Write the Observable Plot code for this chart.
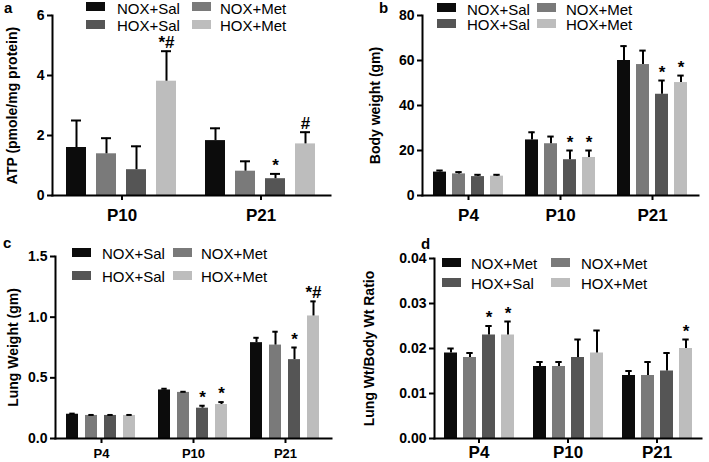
<!DOCTYPE html>
<html>
<head>
<meta charset="utf-8">
<script src="https://cdn.jsdelivr.net/npm/d3@7"></script>
<script src="https://cdn.jsdelivr.net/npm/@observablehq/plot@0.6"></script>
<style>
  html, body { margin: 0; padding: 0; background: #fff; }
  body { width: 709px; height: 462px; overflow: hidden; font-family: "Liberation Sans", Arial, sans-serif; }
  #fig { position: relative; width: 709px; height: 462px; }
  .panel { position: absolute; height: 231px; }
  .panel svg { display: block; }
  .letter { position: absolute; font-weight: bold; font-size: 15px; line-height: 12px; color: #000; }
  .sw { position: absolute; width: 19px; height: 9px; }
  .lt { position: absolute; font-size: 15px; line-height: 1; color: #000; white-space: nowrap; }
</style>
</head>
<body>
<div id="fig"></div>
<script>
// ---------- data ----------
const series = ["NOX+Sal", "NOX+Met", "HOX+Sal", "HOX+Met"];
const colors = ["#0c0c0c", "#7a7a7a", "#555555", "#bdbdbd"];

// panel a: ATP
const aGroups = ["P10", "P21"];
const aMean = [[1.6, 1.39, 0.86, 3.81], [1.83, 0.81, 0.56, 1.72]];
const aErr  = [[0.9, 0.52, 0.78, 1.0], [0.41, 0.33, 0.16, 0.39]];
const aSig  = [["", "", "", "*#"], ["", "", "*", "#"]];
const aTicks = [0, 2, 4, 6];
const aLegend = ["NOX+Sal", "NOX+Met", "HOX+Sal", "HOX+Met"];

// panel b: body weight
const bGroups = ["P4", "P10", "P21"];
const bMean = [[10.4, 9.6, 8.4, 8.6], [24.7, 23, 15.9, 16.9], [60, 58.2, 45, 50.2]];
const bErr  = [[0.7, 0.8, 0.8, 0.6], [3.4, 3.2, 4.1, 3.1], [6.4, 6.2, 6.1, 3.1]];
const bSig  = [["", "", "", ""], ["", "", "*", "*"], ["", "", "*", "*"]];
const bTicks = [0, 20, 40, 60, 80];
const bLegend = ["NOX+Sal", "NOX+Met", "HOX+Sal", "HOX+Met"];

// panel c: lung weight
const cGroups = ["P4", "P10", "P21"];
const cMean = [[0.2, 0.19, 0.19, 0.19], [0.4, 0.38, 0.25, 0.28], [0.79, 0.77, 0.65, 1.01]];
const cErr  = [[0.005, 0.004, 0.004, 0.004], [0.01, 0.005, 0.02, 0.02], [0.04, 0.11, 0.1, 0.12]];
const cSig  = [["", "", "", ""], ["", "", "*", "*"], ["", "", "*", "*#"]];
const cTicks = [0, 0.5, 1.0, 1.5];
const cLegend = ["NOX+Sal", "NOX+Met", "HOX+Sal", "HOX+Met"];

// panel d: lung wt / body wt ratio
const dGroups = ["P4", "P10", "P21"];
const dMean = [[0.019, 0.018, 0.023, 0.023], [0.016, 0.016, 0.018, 0.019], [0.014, 0.014, 0.015, 0.020]];
const dErr  = [[0.001, 0.001, 0.002, 0.003], [0.001, 0.001, 0.004, 0.005], [0.001, 0.003, 0.004, 0.002]];
const dSig  = [["", "", "*", "*"], ["", "", "", ""], ["", "", "", "*"]];
const dTicks = [0, 0.01, 0.02, 0.03, 0.04];
const dLegend = ["NOX+Met", "NOX+Met", "HOX+Sal", "HOX+Met"];

// ---------- drawing ----------
function rowsOf(groups, mean, err, sig) {
  const rows = [];
  groups.forEach((g, gi) => series.forEach((s, si) => rows.push({
    group: g, series: s, mean: mean[gi][si], err: err[gi][si], top: mean[gi][si] + err[gi][si], sig: sig[gi][si]
  })));
  return rows;
}

function panel(cfg) {
  const rows = rowsOf(cfg.groups, cfg.mean, cfg.err, cfg.sig);
  const div = document.createElement("div");
  div.className = "panel";
  div.style.left = cfg.left + "px";
  div.style.top = cfg.top + "px";
  div.style.width = cfg.width + "px";
  const chart = Plot.plot({
    width: cfg.width,
    height: 231,
    marginLeft: cfg.ml, marginRight: cfg.mr, marginTop: cfg.mt, marginBottom: cfg.mb,
    fx: {domain: cfg.groups, padding: 0, paddingOuter: cfg.fxOuter, align: cfg.fxAlign, label: null},
    x: {domain: series, paddingInner: cfg.xInner, paddingOuter: cfg.xOuter, axis: null},
    y: {domain: [0, cfg.ticks[cfg.ticks.length - 1]], axis: null},
    color: {domain: series, range: colors},
    style: {fontFamily: '"Liberation Sans", Arial, sans-serif', fontWeight: "bold", background: "#fff", color: "#000", overflow: "visible"},
    marks: [
      Plot.barY(rows, {fx: "group", x: "series", y: "mean", fill: "series"}),
      Plot.ruleX(rows, {fx: "group", x: "series", y1: "mean", y2: "top", stroke: "#000", strokeWidth: 2}),
      Plot.tickY(rows, {fx: "group", x: "series", y: "top", stroke: "#000", strokeWidth: 2, insetLeft: cfg.cap, insetRight: cfg.cap}),
      Plot.text(rows.filter(d => d.sig), {fx: "group", x: "series", y: "top", text: "sig", dy: -3, lineAnchor: "bottom", fontSize: 17, fill: "#000"}),
      Plot.axisY({ticks: cfg.ticks, tickFormat: cfg.fmt, tickSize: 5, tickPadding: 3, fontSize: 14, strokeWidth: 2,
        label: cfg.ylabel, labelAnchor: "center", labelOffset: cfg.labelOffset, labelArrow: "none"}),
      Plot.axisFx({anchor: "bottom", tickSize: 5, tickPadding: cfg.fxPad, fontSize: cfg.fxFont, strokeWidth: 2, label: null}),
      Plot.frame({facet: "super", anchor: "left", stroke: "#000", strokeWidth: 2}),
      Plot.frame({facet: "super", anchor: "bottom", stroke: "#000", strokeWidth: 2})
    ]
  });
  div.appendChild(chart);

  const letter = document.createElement("div");
  letter.className = "letter";
  letter.textContent = cfg.letter;
  letter.style.left = cfg.letterPos[0] + "px";
  letter.style.top = cfg.letterPos[1] + "px";
  div.appendChild(letter);

  cfg.legend.forEach((lab, i) => {
    const col = i % 2, row = Math.floor(i / 2);
    const sw = document.createElement("div");
    sw.className = "sw";
    sw.style.background = colors[i];
    sw.style.left = cfg.lg.sw[col] + "px";
    sw.style.top = (cfg.lg.rows[row] - 4.5) + "px";
    div.appendChild(sw);
    const t = document.createElement("div");
    t.className = "lt";
    t.textContent = lab;
    t.style.left = cfg.lg.tx[col] + "px";
    t.style.top = (cfg.lg.rows[row] - 6) + "px";
    div.appendChild(t);
  });
  document.getElementById("fig").appendChild(div);
}

const fmt2 = d => d.toFixed(2);
const fmt1 = d => d.toFixed(1);

panel({letter: "a", letterPos: [4, 2], left: 0, top: 0, width: 354,
  groups: aGroups, mean: aMean, err: aErr, sig: aSig, ticks: aTicks, fmt: d => d,
  ylabel: "ATP (pmole/mg protein)", labelOffset: 45,
  ml: 52, mr: 7, mt: 15, mb: 36, fxOuter: 0.054, fxAlign: 0, xInner: 0.32, xOuter: 0.47, cap: 5,
  fxPad: 8, fxFont: 17, legend: aLegend,
  lg: {sw: [86, 192], tx: [117, 220], rows: [6.5, 24]}});

panel({letter: "b", letterPos: [25, 2], left: 354, top: 0, width: 355,
  groups: bGroups, mean: bMean, err: bErr, sig: bSig, ticks: bTicks, fmt: d => d,
  ylabel: "Body weight (gm)", labelOffset: 52,
  ml: 67, mr: 11, mt: 15, mb: 36, fxOuter: 0, fxAlign: 0.5, xInner: 0.335, xOuter: 0.48, cap: 3.3,
  fxPad: 8, fxFont: 17, legend: bLegend,
  lg: {sw: [83, 183], tx: [113, 212], rows: [7.5, 23]}});

panel({letter: "c", letterPos: [3, 6], left: 0, top: 231, width: 354,
  groups: cGroups, mean: cMean, err: cErr, sig: cSig, ticks: cTicks, fmt: fmt1,
  ylabel: "Lung Weight (gm)", labelOffset: 47,
  ml: 52, mr: 7, mt: 25, mb: 24, fxOuter: 0.095, fxAlign: 0.17, xInner: 0.35, xOuter: 0.49, cap: 3.3,
  fxPad: 5, fxFont: 13, legend: cLegend,
  lg: {sw: [72, 173], tx: [102, 201], rows: [21, 44]}});

panel({letter: "d", letterPos: [67, 7], left: 354, top: 231, width: 355,
  groups: dGroups, mean: dMean, err: dErr, sig: dSig, ticks: dTicks, fmt: fmt2,
  ylabel: "Lung Wt/Body Wt Ratio", labelOffset: 70,
  ml: 79, mr: 8, mt: 27, mb: 24, fxOuter: 0, fxAlign: 0.5, xInner: 0.33, xOuter: 0.49, cap: 3.3,
  fxPad: 2, fxFont: 17, legend: dLegend,
  lg: {sw: [88, 197], tx: [117, 227], rows: [31, 51]}});
</script>
</body>
</html>
